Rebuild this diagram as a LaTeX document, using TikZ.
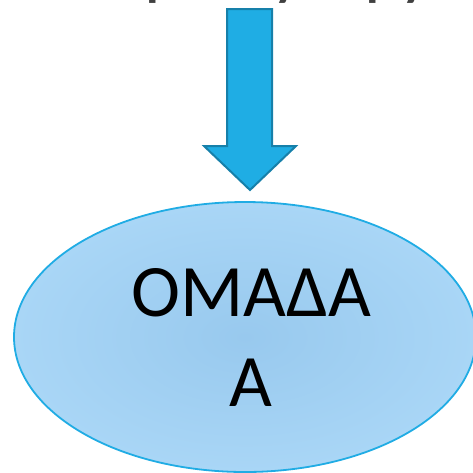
\documentclass[tikz,border=0pt]{standalone}
\usepackage{fontspec}
\setmainfont{Carlito}
\usetikzlibrary{shapes.geometric}
\definecolor{arrowfill}{HTML}{1FADE4}
\definecolor{arrowline}{HTML}{1680AA}
\definecolor{ellline}{HTML}{20ACE4}
\definecolor{ellin}{HTML}{98C9EE}
\definecolor{ellout}{HTML}{A9D6F6}
\definecolor{toptext}{HTML}{404040}
\tikzset{
  blockarrow/.style={fill=arrowfill, draw=arrowline, line width=2pt, line join=miter},
  groupell/.style={ellipse, draw=ellline, line width=1.8pt, inner color=ellin, outer color=ellout,
    minimum width=462pt, minimum height=270pt, inner sep=0pt},
  grouplabel/.style={align=center, inner sep=0pt, font=\fontsize{74}{90}\selectfont},
  frag/.style={anchor=base, text=toptext, font=\fontsize{74}{90}\selectfont, inner sep=0pt}
}
\begin{document}
\begin{tikzpicture}[x=1pt,y=-1pt]
\useasboundingbox (0,0) rectangle (473,472);
\begin{scope}
\clip (0,0) rectangle (473,472);
\node[frag] (f1) at (164,-9) {p};
\node[frag] (f2) at (288,-9) {y};
\node[frag] (f3) at (384,-9) {p};
\node[frag] (f4) at (416,-9) {y};
\node[groupell] (grp) at (245,337) {};
\end{scope}
\node[grouplabel] (lbl) at ([xshift=6pt]grp.center) {ΟΜΑΔΑ\\Α};
\coordinate (tip) at (250,190);
\draw[blockarrow] (227,9) -- (272,9) -- (272,146) -- (296,146) -- (tip) -- (204,146) -- (227,146) -- cycle;
\end{tikzpicture}
\end{document}
